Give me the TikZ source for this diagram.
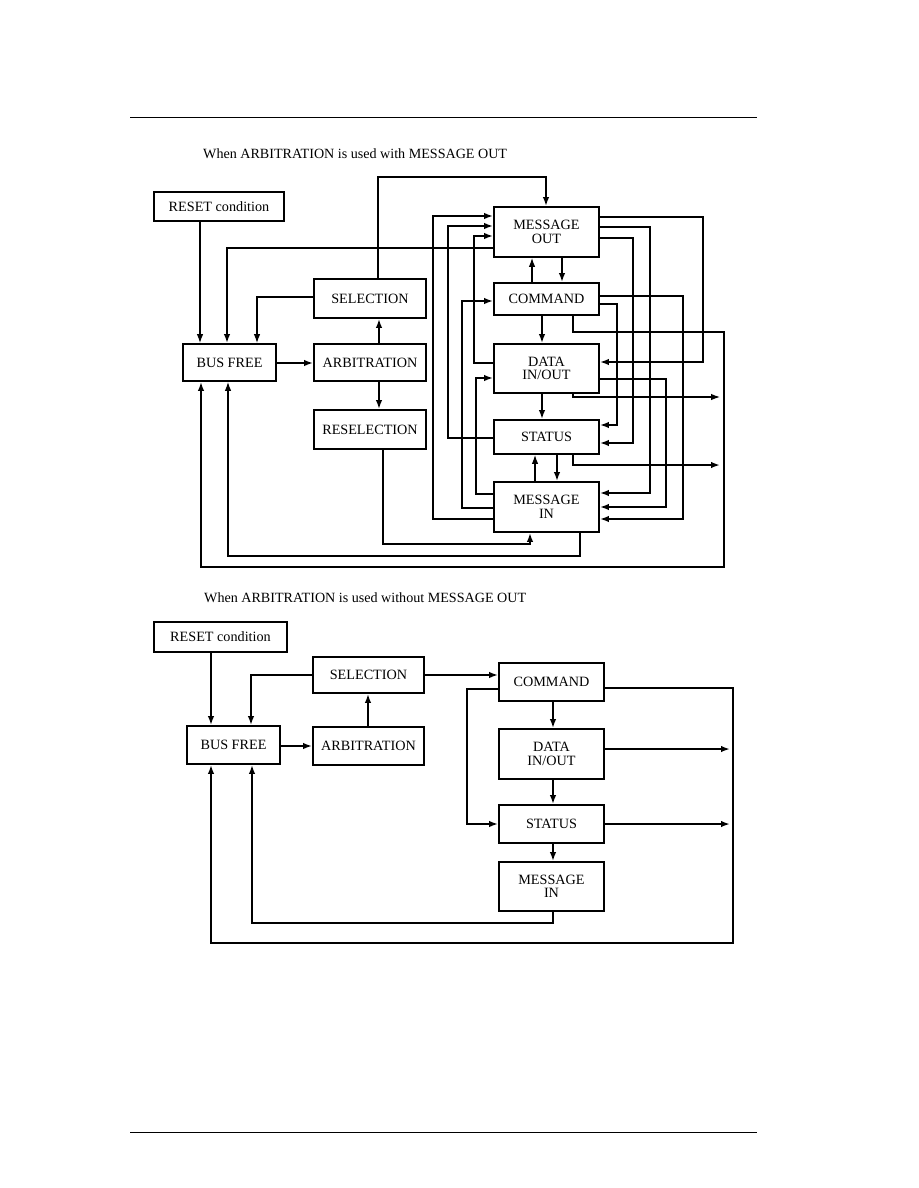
\documentclass[tikz,border=0pt]{standalone}
\usepackage{fontspec}
\setmainfont{Liberation Serif}
\usetikzlibrary{arrows.meta}
\tikzset{
  box/.style={draw, line width=1.8pt, inner sep=0pt, align=center, font=\fontsize{14.2}{13.5}\selectfont},
  arr/.style={-{Latex[length=9pt,width=6.5pt]}},
  thn/.style={line width=1.2pt},
  mdl/.style={line width=1.8pt},
  tck/.style={line width=2.6pt},
  captxt/.style={anchor=base west, inner sep=0pt, font=\fontsize{14.1}{16}\selectfont},
}
\begin{document}
\begin{tikzpicture}[x=1pt,y=-1pt]
\useasboundingbox (0,0) rectangle (918,1188);
% page rules
\draw[line width=1pt] (130,118) -- (757,118);
\draw[line width=1pt] (130,1132) -- (757,1132);
% captions
\node[captxt] (cap1) at (203,158) {When ARBITRATION is used with MESSAGE OUT};
\node[captxt] (cap2) at (204,602) {When ARBITRATION is used without MESSAGE OUT};

% ---------- top diagram ----------
\node[box, minimum width=130pt, minimum height=29pt] (rst1) at (219,206.5) {RESET condition};
\node[box, minimum width=112pt, minimum height=39pt] (sel1) at (370,298.5) {SELECTION};
\node[box, minimum width=93pt, minimum height=37pt] (bf1) at (229.5,362.5) {BUS FREE};
\node[box, minimum width=112pt, minimum height=37pt] (arb1) at (370,362.5) {ARBITRATION};
\node[box, minimum width=112pt, minimum height=39pt] (resel1) at (370,429.5) {RESELECTION};
\node[box, minimum width=105pt, minimum height=50pt] (mo1) at (546.5,232) {MESSAGE\\OUT};
\node[box, minimum width=105pt, minimum height=32pt] (cmd1) at (546.5,299) {COMMAND};
\node[box, minimum width=105pt, minimum height=49pt] (dio1) at (546.5,368.5) {DATA\\IN/OUT};
\node[box, minimum width=105pt, minimum height=34pt] (st1) at (546.5,437) {STATUS};
\node[box, minimum width=105pt, minimum height=50pt] (mi1) at (546.5,507) {MESSAGE\\IN};
\coordinate (out1) at (720,397);
\coordinate (out2) at (720,465);

\draw[thn,arr] (rst1.south -| 200,0) -- (bf1.north -| 200,0);
\draw[tck,arr] (mo1.west |- 0,248) -| (bf1.north -| 227,0);
\draw[thn,arr] (sel1.west |- 0,297) -| (bf1.north -| 257,0);
\draw[tck,arr] (bf1.east |- 0,363) -- (arb1.west |- 0,363);
\draw[mdl,arr] (arb1.north -| 379,0) -- (sel1.south -| 379,0);
\draw[tck,arr] (arb1.south -| 379,0) -- (resel1.north -| 379,0);
\draw[tck,arr] (sel1.north -| 378,0) |- (546,177) -- (mo1.north -| 546,0);
\draw[mdl,arr] (resel1.south -| 383,0) |- (530,544) -- (mi1.south -| 530,0);
\draw[thn,arr] (mi1.south -| 580,0) |- (228,556) -- (bf1.south -| 228,0);
\draw[tck,arr] (cmd1.south -| 573,0) |- (724,332) |- (201,567) -- (bf1.south -| 201,0);
\draw[thn,arr] (dio1.south -| 573,0) |- (out1);
\draw[tck,arr] (st1.south -| 573,0) |- (out2);
\draw[thn,arr] (cmd1.north -| 532,0) -- (mo1.south -| 532,0);
\draw[tck,arr] (mo1.south -| 562,0) -- (cmd1.north -| 562,0);
\draw[tck,arr] (cmd1.south -| 542,0) -- (dio1.north -| 542,0);
\draw[tck,arr] (dio1.south -| 542,0) -- (st1.north -| 542,0);
\draw[thn,arr] (mi1.north -| 535,0) -- (st1.south -| 535,0);
\draw[tck,arr] (st1.south -| 557,0) -- (mi1.north -| 557,0);
% left side returns
\draw[tck,arr] (mi1.west |- 0,519) -| (433,216) -- (mo1.west |- 0,216);
\draw[mdl,arr] (st1.west |- 0,438) -| (448,226) -- (mo1.west |- 0,226);
\draw[tck,arr] (dio1.west |- 0,363) -| (474,236) -- (mo1.west |- 0,236);
\draw[tck,arr] (mi1.west |- 0,508) -| (462,301) -- (cmd1.west |- 0,301);
\draw[tck,arr] (mi1.west |- 0,494) -| (476,378) -- (dio1.west |- 0,378);
% right side
\draw[mdl,arr] (mo1.east |- 0,217) -| (703,362) -- (dio1.east |- 0,362);
\draw[tck,arr] (mo1.east |- 0,227) -| (650,493) -- (mi1.east |- 0,493);
\draw[mdl,arr] (mo1.east |- 0,238) -| (633,443) -- (st1.east |- 0,443);
\draw[mdl,arr] (cmd1.east |- 0,296) -| (683,519) -- (mi1.east |- 0,519);
\draw[mdl,arr] (cmd1.east |- 0,304) -| (617,425) -- (st1.east |- 0,425);
\draw[mdl,arr] (dio1.east |- 0,379) -| (666,507) -- (mi1.east |- 0,507);

% ---------- bottom diagram ----------
\node[box, minimum width=133pt, minimum height=30pt] (rst2) at (220.5,637) {RESET condition};
\node[box, minimum width=111pt, minimum height=36pt] (sel2) at (368.5,675) {SELECTION};
\node[box, minimum width=93pt, minimum height=38pt] (bf2) at (233.5,745) {BUS FREE};
\node[box, minimum width=111pt, minimum height=38pt] (arb2) at (368.5,746) {ARBITRATION};
\node[box, minimum width=105pt, minimum height=38pt] (cmd2) at (551.5,682) {COMMAND};
\node[box, minimum width=105pt, minimum height=50pt] (dio2) at (551.5,754) {DATA\\IN/OUT};
\node[box, minimum width=105pt, minimum height=38pt] (st2) at (551.5,824) {STATUS};
\node[box, minimum width=105pt, minimum height=49pt] (mi2) at (551.5,886.5) {MESSAGE\\IN};
\coordinate (out3) at (730,749);
\coordinate (out4) at (730,824);

\draw[mdl,arr] (rst2.south -| 211,0) -- (bf2.north -| 211,0);
\draw[tck,arr] (sel2.west |- 0,675) -| (bf2.north -| 251,0);
\draw[mdl,arr] (bf2.east |- 0,746) -- (arb2.west |- 0,746);
\draw[tck,arr] (arb2.north -| 368,0) -- (sel2.south -| 368,0);
\draw[mdl,arr] (sel2.east |- 0,675) -- (cmd2.west |- 0,675);
\draw[mdl,arr] (cmd2.south -| 553,0) -- (dio2.north -| 553,0);
\draw[mdl,arr] (dio2.south -| 553,0) -- (st2.north -| 553,0);
\draw[tck,arr] (st2.south -| 553,0) -- (mi2.north -| 553,0);
\draw[tck,arr] (cmd2.west |- 0,689) -| (467,824) -- (st2.west |- 0,824);
\draw[mdl,arr] (dio2.east |- 0,749) -- (out3);
\draw[mdl,arr] (st2.east |- 0,824) -- (out4);
\draw[mdl,arr] (cmd2.east |- 0,688) -| (733,943) -| (bf2.south -| 211,0);
\draw[tck,arr] (mi2.south -| 553,0) |- (252,923) -- (bf2.south -| 252,0);
\end{tikzpicture}
\end{document}
